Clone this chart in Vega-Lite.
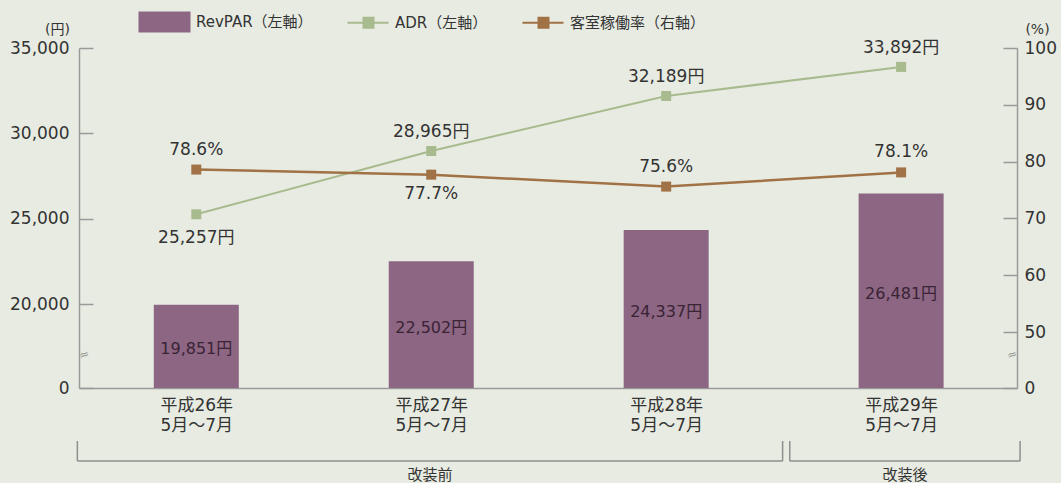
{
  "$schema": "https://vega.github.io/schema/vega-lite/v6.json",
  "background": "#e8ebe2",
  "padding": {"left": 9, "top": 14, "right": 4, "bottom": 0},
  "config": {
    "view": {"stroke": null},
    "font": "DejaVu Sans, Noto Sans CJK JP",
    "axis": {"grid": false, "domainColor": "#9a9a9a", "tickColor": "#9a9a9a", "domainWidth": 1.5, "tickWidth": 1.5, "labelColor": "#333333", "labelFont": "DejaVu Sans, Noto Sans CJK JP", "labelFontSize": 17, "titleFont": "DejaVu Sans, Noto Sans CJK JP", "titleFontWeight": "normal", "titleColor": "#333333"},
    "text": {"font": "DejaVu Sans, Noto Sans CJK JP"}
  },
  "spacing": 7,
  "vconcat": [
    {
      "width": 938,
      "height": 340,
      "data": {"values": [
        {"idx": 1, "RevPAR": 19851, "ADR": 25257, "Occ": 78.6},
        {"idx": 2, "RevPAR": 22502, "ADR": 28965, "Occ": 77.7},
        {"idx": 3, "RevPAR": 24337, "ADR": 32189, "Occ": 75.6},
        {"idx": 4, "RevPAR": 26481, "ADR": 33892, "Occ": 78.1}
      ]},
      "encoding": {
        "x": {"field": "idx", "type": "quantitative",
          "scale": {"domain": [0.522, 4.472], "nice": false, "zero": false},
          "axis": {"values": [1, 2, 3, 4], "ticks": false, "labelExpr": "['平成' + (datum.value + 25) + '年', '5月～7月']", "labelPadding": 9, "labelLineHeight": 20, "labelBaseline": "top", "labelFontSize": 17, "title": null, "labelFlush": false}}
      },
      "layer": [
        {
          "layer": [
            {
              "mark": {"type": "bar", "width": 85},
              "encoding": {
                "y": {"field": "RevPAR", "type": "quantitative",
                  "scale": {"domain": [0, 20000, 35000], "range": [340, 256, 0], "nice": false, "zero": false},
                  "axis": {"orient": "left", "values": [0, 20000, 25000, 30000, 35000], "labelExpr": "format(datum.value, ',')", "tickSize": -14, "labelPadding": 24, "title": "(円)", "titleAngle": 0, "titleX": -22, "titleY": -19, "titleAlign": "center", "titleBaseline": "middle", "titleFontSize": 14}},
                "color": {"datum": "RevPAR（左軸）",
                  "scale": {"domain": ["RevPAR（左軸）", "ADR（左軸）", "客室稼働率（右軸）"], "range": ["#8c6682", "#a8bb8e", "#a07245"]},
                  "legend": {
                    "orient": "none", "direction": "horizontal", "legendX": 78, "legendY": -33.5, "title": null, "padding": 0,
                    "symbolSize": 400, "labelOffset": 24, "columnPadding": 30, "labelFontSize": 15, "labelColor": "#333333", "labelFont": "DejaVu Sans, Noto Sans CJK JP",
                    "encode": {"symbols": {"update": {
                      "shape": {"signal": "datum.value === 'RevPAR（左軸）' ? 'M-2.6,-1.05H2.6V1.05H-2.6Z' : 'M-1.6,0H2.5M0,-0.5H1V0.5H0Z'"},
                      "fill": {"signal": "datum.value === 'RevPAR（左軸）' ? '#94688a' : (datum.value === 'ADR（左軸）' ? '#a5b48c' : '#9a6b42')"},
                      "stroke": {"signal": "datum.value === 'RevPAR（左軸）' ? '#94688a' : (datum.value === 'ADR（左軸）' ? '#a8bb8e' : '#a07245')"},
                      "strokeWidth": {"signal": "datum.value === 'RevPAR（左軸）' ? 0 : 2"},
                      "opacity": {"value": 1}
                    }}}
                  }}
              }
            },
            {
              "transform": [
                {"calculate": "datum.RevPAR <= 20000 ? datum.RevPAR * 84 / 20000 : 84 + (datum.RevPAR - 20000) * 256 / 15000", "as": "bh"},
                {"calculate": "datum.bh / 2 - 3", "as": "bm"},
                {"calculate": "datum.bm <= 84 ? datum.bm * 20000 / 84 : 20000 + (datum.bm - 84) * 15000 / 256", "as": "labY"},
                {"calculate": "format(datum.RevPAR, ',') + '円'", "as": "lbl"}
              ],
              "mark": {"type": "text", "fontSize": 16, "color": "#3a2335", "baseline": "middle"},
              "encoding": {
                "y": {"field": "labY", "type": "quantitative", "scale": {"domain": [0, 20000, 35000], "range": [340, 256, 0], "nice": false, "zero": false}, "title": "(円)"},
                "text": {"field": "lbl"}
              }
            },
            {
              "mark": {"type": "line", "strokeWidth": 2},
              "encoding": {
                "y": {"field": "ADR", "type": "quantitative", "scale": {"domain": [0, 20000, 35000], "range": [340, 256, 0], "nice": false, "zero": false}, "title": "(円)"},
                "color": {"datum": "ADR（左軸）"}
              }
            },
            {
              "mark": {"type": "point", "shape": "square", "filled": true, "size": 100, "opacity": 1},
              "encoding": {
                "y": {"field": "ADR", "type": "quantitative", "scale": {"domain": [0, 20000, 35000], "range": [340, 256, 0], "nice": false, "zero": false}, "title": "(円)"},
                "color": {"datum": "ADR（左軸）"}
              }
            },
            {
              "transform": [{"filter": "datum.idx > 1"}, {"calculate": "format(datum.ADR, ',') + '円'", "as": "lbl"}],
              "mark": {"type": "text", "fontSize": 17, "color": "#333333", "baseline": "middle", "dy": -19},
              "encoding": {
                "y": {"field": "ADR", "type": "quantitative", "scale": {"domain": [0, 20000, 35000], "range": [340, 256, 0], "nice": false, "zero": false}, "title": "(円)"},
                "text": {"field": "lbl"}
              }
            },
            {
              "transform": [{"filter": "datum.idx == 1"}, {"calculate": "format(datum.ADR, ',') + '円'", "as": "lbl"}],
              "mark": {"type": "text", "fontSize": 17, "color": "#333333", "baseline": "middle", "dy": 24},
              "encoding": {
                "y": {"field": "ADR", "type": "quantitative", "scale": {"domain": [0, 20000, 35000], "range": [340, 256, 0], "nice": false, "zero": false}, "title": "(円)"},
                "text": {"field": "lbl"}
              }
            },
            {
              "transform": [{"filter": "datum.idx == 1"}],
              "mark": {"type": "text", "text": "≈", "fontSize": 12, "color": "#999999", "angle": 340, "baseline": "middle"},
              "encoding": {
                "x": {"datum": 0.522},
                "y": {"datum": 8000, "scale": {"domain": [0, 20000, 35000], "range": [340, 256, 0], "nice": false, "zero": false}, "title": "(円)"}
              }
            },
            {
              "transform": [{"filter": "datum.idx == 1"}],
              "mark": {"type": "text", "text": "≈", "fontSize": 12, "color": "#999999", "angle": 340, "baseline": "middle"},
              "encoding": {
                "x": {"datum": 4.472},
                "y": {"datum": 8000, "scale": {"domain": [0, 20000, 35000], "range": [340, 256, 0], "nice": false, "zero": false}, "title": "(円)"}
              }
            }
          ]
        },
        {
          "layer": [
            {
              "mark": {"type": "line", "strokeWidth": 2.5},
              "encoding": {
                "y": {"field": "Occ", "type": "quantitative",
                  "scale": {"domain": [0, 50, 100], "range": [340, 284, 0], "nice": false, "zero": false},
                  "axis": {"orient": "right", "values": [0, 50, 60, 70, 80, 90, 100], "tickSize": -14, "labelPadding": 21, "title": "(%)", "titleAngle": 0, "titleX": 20, "titleY": -19, "titleAlign": "center", "titleBaseline": "middle", "titleFontSize": 14}},
                "color": {"datum": "客室稼働率（右軸）"}
              }
            },
            {
              "mark": {"type": "point", "shape": "square", "filled": true, "size": 100, "opacity": 1},
              "encoding": {
                "y": {"field": "Occ", "type": "quantitative", "scale": {"domain": [0, 50, 100], "range": [340, 284, 0], "nice": false, "zero": false}, "title": "(%)"},
                "color": {"datum": "客室稼働率（右軸）"}
              }
            },
            {
              "transform": [{"filter": "datum.idx != 2"}, {"calculate": "format(datum.Occ, '.1f') + '%'", "as": "lbl"}],
              "mark": {"type": "text", "fontSize": 17, "color": "#333333", "baseline": "middle", "dy": -20},
              "encoding": {
                "y": {"field": "Occ", "type": "quantitative", "scale": {"domain": [0, 50, 100], "range": [340, 284, 0], "nice": false, "zero": false}, "title": "(%)"},
                "text": {"field": "lbl"}
              }
            },
            {
              "transform": [{"filter": "datum.idx == 2"}, {"calculate": "format(datum.Occ, '.1f') + '%'", "as": "lbl"}],
              "mark": {"type": "text", "fontSize": 17, "color": "#333333", "baseline": "middle", "dy": 19},
              "encoding": {
                "y": {"field": "Occ", "type": "quantitative", "scale": {"domain": [0, 50, 100], "range": [340, 284, 0], "nice": false, "zero": false}, "title": "(%)"},
                "text": {"field": "lbl"}
              }
            }
          ]
        }
      ],
      "resolve": {"scale": {"y": "independent"}}
    },
    {
      "width": 938,
      "height": 40,
      "data": {"values": [
        {"group": "改装前", "from": 1, "to": 3},
        {"group": "改装後", "from": 4, "to": 4}
      ]},
      "transform": [
        {"calculate": "datum.from - 0.485", "as": "xs"},
        {"calculate": "datum.to + 0.485", "as": "xe"},
        {"calculate": "(datum.from + datum.to) / 2", "as": "xm"}
      ],
      "layer": [
        {
          "mark": {"type": "rule", "color": "#8f8f8f", "strokeWidth": 1.5},
          "encoding": {
            "x": {"field": "xs", "type": "quantitative", "scale": {"domain": [0.522, 4.472], "nice": false, "zero": false}, "axis": null},
            "x2": {"field": "xe"},
            "y": {"datum": 0.5, "scale": {"domain": [0, 1]}, "axis": null}
          }
        },
        {
          "mark": {"type": "rule", "color": "#8f8f8f", "strokeWidth": 1.5},
          "encoding": {
            "x": {"field": "xs", "type": "quantitative", "scale": {"domain": [0.522, 4.472], "nice": false, "zero": false}, "axis": null},
            "y": {"datum": 1, "scale": {"domain": [0, 1]}, "axis": null},
            "y2": {"datum": 0.5}
          }
        },
        {
          "mark": {"type": "rule", "color": "#8f8f8f", "strokeWidth": 1.5},
          "encoding": {
            "x": {"field": "xe", "type": "quantitative", "scale": {"domain": [0.522, 4.472], "nice": false, "zero": false}, "axis": null},
            "y": {"datum": 1, "scale": {"domain": [0, 1]}, "axis": null},
            "y2": {"datum": 0.5}
          }
        },
        {
          "mark": {"type": "text", "fontSize": 15, "color": "#333333", "baseline": "middle"},
          "encoding": {
            "x": {"field": "xm", "type": "quantitative", "scale": {"domain": [0.522, 4.472], "nice": false, "zero": false}, "axis": null},
            "y": {"datum": 0.15, "scale": {"domain": [0, 1]}, "axis": null},
            "text": {"field": "group"}
          }
        }
      ]
    }
  ]
}
